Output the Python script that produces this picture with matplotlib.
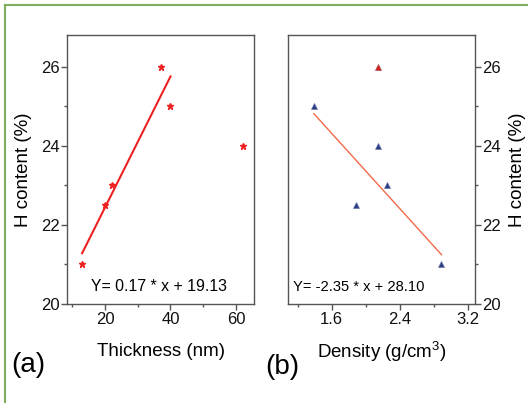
import matplotlib
matplotlib.use('Agg')
import matplotlib.pyplot as plt
import numpy as np
from matplotlib.ticker import MultipleLocator

plt.rcParams['font.family'] = ['Liberation Sans', 'DejaVu Sans']
plt.rcParams['mathtext.fontset'] = 'custom'
plt.rcParams['mathtext.rm'] = 'Liberation Sans'
plt.rcParams['mathtext.it'] = 'Liberation Sans'

# (a) thickness vs H content
thickness = [13, 20, 22, 37, 40, 62]
h_thick = [21, 22.5, 23, 26, 25, 24]
fit_a_n = 5  # fit uses first five samples

# (b) density vs H content
density_blue = [1.39, 1.88, 2.14, 2.25, 2.89]
h_blue = [25, 22.5, 24, 23, 21]
density_red = [2.14]
h_red = [26]

eq_a = 'Y= 0.17 * x + 19.13'
eq_b = 'Y= -2.35 * x + 28.10'

fig = plt.figure(figsize=(5.28, 4.03), dpi=100)
ax1 = fig.add_axes([0.127, 0.246, 0.354, 0.667])
ax2 = fig.add_axes([0.546, 0.246, 0.353, 0.667])

spine_c = '#555555'
for ax in (ax1, ax2):
    for s in ax.spines.values():
        s.set_color(spine_c)
        s.set_linewidth(1.0)
    ax.set_ylim(20, 26.8)
    ax.yaxis.set_major_locator(MultipleLocator(2))
    ax.yaxis.set_minor_locator(MultipleLocator(1))
    ax.tick_params(which='both', direction='out', colors=spine_c, labelcolor='#111111',
                   labelsize=12, pad=1.5)
    ax.tick_params(which='major', length=4, width=1)
    ax.tick_params(which='minor', length=2.5, width=1)

# panel (a)
ax1.plot(thickness, h_thick, linestyle='none', marker='*', color='#ee2222', markersize=4.5)
k, b = np.polyfit(thickness[:fit_a_n], h_thick[:fit_a_n], 1)
xs = np.array([min(thickness[:fit_a_n]), max(thickness[:fit_a_n])])
ax1.plot(xs, k * xs + b, color='#ee2222', linewidth=1.5)
ax1.set_xlim(8.4, 65.5)
ax1.xaxis.set_major_locator(MultipleLocator(20))
ax1.xaxis.set_minor_locator(MultipleLocator(10))
ax1.text(0.49, 0.063, eq_a, transform=ax1.transAxes, ha='center', va='center', fontsize=11.4)
ax1.set_xlabel('Thickness (nm)', fontsize=13.5, labelpad=12)
ax1.set_ylabel('H content (%)', fontsize=13.5, labelpad=6)

# panel (b)
ax2.plot(density_blue, h_blue, linestyle='none', marker='^', color='#2b3b85',
         markeredgecolor='#6a74a8', markeredgewidth=0.5, markersize=5)
ax2.plot(density_red, h_red, linestyle='none', marker='^', color='#d42020',
         markeredgecolor='#a05050', markeredgewidth=0.5, markersize=5)
k2, b2 = np.polyfit(density_blue, h_blue, 1)
xs2 = np.array([min(density_blue), max(density_blue)])
ax2.plot(xs2, k2 * xs2 + b2, color='#f26a4a', linewidth=1.0)
ax2.set_xlim(1.09, 3.28)
ax2.xaxis.set_major_locator(MultipleLocator(0.8))
ax2.xaxis.set_minor_locator(MultipleLocator(0.4))
ax2.yaxis.tick_right()
ax2.yaxis.set_label_position('right')
ax2.text(0.025, 0.064, eq_b, transform=ax2.transAxes, ha='left', va='center', fontsize=10.6)
ax2.set_xlabel('Density (g/cm$^{3}$)', fontsize=13.5, labelpad=10)
ax2.set_ylabel('H content (%)', fontsize=13.5, labelpad=6)

fig.text(28 / 528, 1 - 365 / 403, '(a)', fontsize=20, ha='center', va='center')
fig.text(282 / 528, 1 - 367 / 403, '(b)', fontsize=20, ha='center', va='center')

# green frame (left and top edges)
green = '#7eae5c'
fig.add_artist(plt.Line2D([4.5 / 528, 4.5 / 528], [0, 1 - 5 / 403], color=green, linewidth=1.5,
                          transform=fig.transFigure))
fig.add_artist(plt.Line2D([4.5 / 528, 1], [1 - 5 / 403, 1 - 5 / 403], color=green, linewidth=1.5,
                          transform=fig.transFigure))

fig.savefig('out.png', dpi=100)
